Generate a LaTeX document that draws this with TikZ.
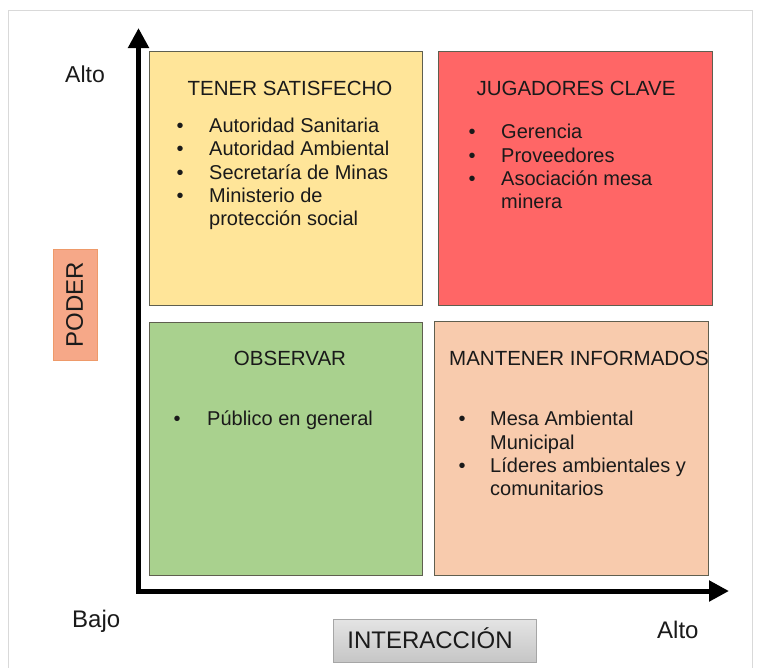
\documentclass[tikz,border=0pt]{standalone}
\usepackage{fontspec}
\setmainfont{Liberation Sans}
\usetikzlibrary{arrows.meta}
\definecolor{frameg}{HTML}{D9D9D9}
\definecolor{qyellow}{HTML}{FFE599}
\definecolor{qred}{HTML}{FF6666}
\definecolor{qgreen}{HTML}{A9D18E}
\definecolor{qpeach}{HTML}{F8CBAD}
\definecolor{qborder}{HTML}{5F5F4F}
\definecolor{poderfill}{HTML}{F6A888}
\definecolor{poderdraw}{HTML}{EE9A6A}
\definecolor{inttop}{HTML}{E4E4E4}
\definecolor{intbot}{HTML}{C6C6C6}
\definecolor{intdraw}{HTML}{A6A6A6}
\definecolor{txt}{HTML}{1A1A1A}
\tikzset{
  quad/.style={draw=qborder, line width=0.9pt},
  body/.style={font=\fontsize{20}{23}\selectfont, text=txt, inner sep=0pt},
  bodyw/.style={body, anchor=base west},
  bul/.style={body, anchor=base},
  ttl/.style={font=\fontsize{20.5}{23}\selectfont, text=txt, inner sep=0pt},
  axlabel/.style={font=\fontsize{24}{28}\selectfont, text=txt, inner sep=0pt, anchor=base west},
  axis/.style={line width=5pt, black, {Triangle[width=20pt,length=20pt]}-{Triangle[width=20pt,length=20pt]}},
}
\begin{document}
\begin{tikzpicture}[x=1pt,y=-1pt]
\useasboundingbox (0,0) rectangle (759,667);
\fill[white] (0,0) rectangle (759,667);
\draw[frameg, line width=1pt] (8.5,680) -- (8.5,10.5) -- (752.5,10.5) -- (752.5,680);

% quadrants
\draw[quad, fill=qyellow] (149,51) rectangle (422,305);
\draw[quad, fill=qred] (438,51) rectangle (712,305);
\draw[quad, fill=qgreen] (149,322) rectangle (422,575);
\draw[quad, fill=qpeach] (434,321) rectangle (708,575);

% axes
\coordinate (ytop) at (138.5,28);
\coordinate (corner) at (138.5,591);
\coordinate (xend) at (729,591);
\draw[axis] (ytop) -- (corner) -- (xend);

% axis labels
\node[axlabel, font=\fontsize{23}{27}\selectfont] (altoy) at (65,82) {Alto};
\node[axlabel] (bajo) at (72,627) {Bajo};
\node[axlabel] (altox) at (657,638) {Alto};

\node[draw=poderdraw, fill=poderfill, line width=0.8pt, minimum width=44pt, minimum height=111pt, inner sep=0pt] (poderbox) at (75,304.5) {};
\node[font=\fontsize{24}{28}\selectfont, text=txt, rotate=90, inner sep=0pt] (poder) at (74.5,304.5) {PODER};

\node[draw=intdraw, top color=inttop, bottom color=intbot, line width=0.8pt, minimum width=203pt, minimum height=43pt, inner sep=0pt] (intbox) at (434.5,640.5) {};
\node[font=\fontsize{24}{28}\selectfont, text=txt, inner sep=0pt, anchor=base] (inter) at (430,648) {INTERACCIÓN};

% yellow
\node[ttl, anchor=base] (t1) at (290,95) {TENER SATISFECHO};
\node[bul] (b11) at (180,132) {•};
\node[bodyw] (y1) at (209,132) {Autoridad Sanitaria};
\node[bul] (b12) at (180,155) {•};
\node[bodyw] (y2) at (209,155) {Autoridad Ambiental};
\node[bul] (b13) at (180,179) {•};
\node[bodyw] (y3) at (209,179) {Secretaría de Minas};
\node[bul] (b14) at (180,202) {•};
\node[bodyw] (y4) at (209,202) {Ministerio de};
\node[bodyw] (y5) at (209,225) {protección social};

% red
\node[ttl, anchor=base] (t2) at (576,95) {JUGADORES CLAVE};
\node[bul] (b21) at (472,138) {•};
\node[bodyw] (r1) at (501,138) {Gerencia};
\node[bul] (b22) at (472,162) {•};
\node[bodyw] (r2) at (501,162) {Proveedores};
\node[bul] (b23) at (472,185) {•};
\node[bodyw] (r3) at (501,185) {Asociación mesa};
\node[bodyw] (r4) at (501,208) {minera};

% green
\node[ttl, anchor=base] (t3) at (290,365) {OBSERVAR};
\node[bul] (b31) at (177,425) {•};
\node[bodyw] (g1) at (207,425) {Público en general};

% peach
\node[ttl, anchor=base west] (t4) at (449,365) {MANTENER INFORMADOS};
\node[bul] (b41) at (462,425) {•};
\node[bodyw] (p1) at (490,425) {Mesa Ambiental};
\node[bodyw] (p2) at (490,449) {Municipal};
\node[bul] (b42) at (462,472) {•};
\node[bodyw] (p3) at (490,472) {Líderes ambientales y};
\node[bodyw] (p4) at (490,495) {comunitarios};
\end{tikzpicture}
\end{document}
